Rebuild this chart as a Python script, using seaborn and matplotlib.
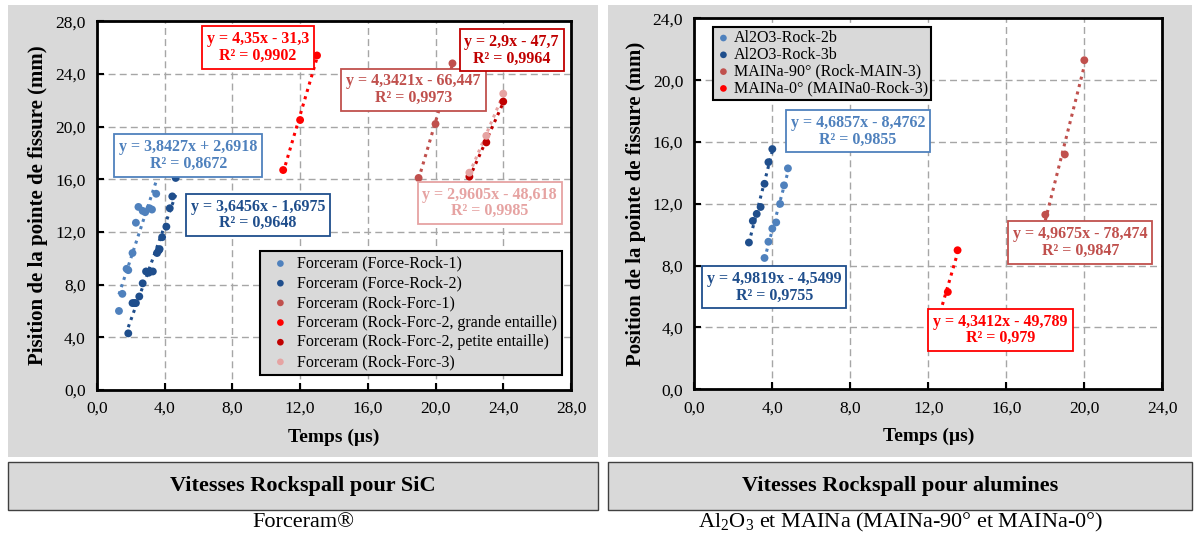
import numpy as np
import pandas as pd
import matplotlib
matplotlib.use('Agg')
import matplotlib.pyplot as plt
import seaborn as sns
from matplotlib.patches import Rectangle
from matplotlib.ticker import MultipleLocator, FuncFormatter

sns.set_style('white')
plt.rcParams['font.family'] = ['Liberation Serif', 'DejaVu Serif']
plt.rcParams['mathtext.fontset'] = 'custom'
plt.rcParams['mathtext.rm'] = 'Liberation Serif'
plt.rcParams['text.color'] = 'black'
plt.rcParams['axes.labelcolor'] = 'black'
plt.rcParams['xtick.color'] = 'black'
plt.rcParams['ytick.color'] = 'black'

# --- Données SiC (Forceram) ---
fr1_t = [1.3, 1.5, 1.75, 1.85, 2.1, 2.3, 2.45, 2.7, 2.85, 3.1, 3.25, 3.5]
fr1_p = [6.0, 7.3, 9.2, 9.1, 10.4, 12.7, 13.9, 13.6, 13.5, 13.8, 13.7, 14.9]
fr2_t = [1.85, 2.1, 2.2, 2.3, 2.5, 2.7, 2.9, 3.05, 3.15, 3.3, 3.55, 3.65, 3.7, 3.85, 4.1, 4.3, 4.45, 4.65]
fr2_p = [4.3, 6.6, 6.6, 6.6, 7.1, 8.1, 9.0, 8.9, 9.0, 9.0, 10.4, 10.6, 10.7, 11.6, 12.4, 13.8, 14.7, 16.1]
rf1_t = [19.0, 20.0, 21.0]
rf1_p = [16.1, 20.2, 24.8]
rf2g_t = [11.0, 12.0, 13.0]
rf2g_p = [16.7, 20.5, 25.4]
rf2p_t = [22.0, 23.0, 24.0]
rf2p_p = [16.2, 18.8, 21.9]
rf3_t = [22.0, 23.0, 24.0]
rf3_p = [16.5, 19.3, 22.5]

# --- Données alumines ---
a2b_t = [3.6, 3.8, 4.0, 4.2, 4.4, 4.6, 4.8]
a2b_p = [8.5, 9.55, 10.4, 10.8, 12.0, 13.2, 14.3]
a3b_t = [2.8, 3.0, 3.2, 3.4, 3.6, 3.8, 4.0]
a3b_p = [9.5, 10.9, 11.35, 11.8, 13.3, 14.7, 15.55]
m90_t = [18.0, 19.0, 20.0]
m90_p = [11.3, 15.2, 21.3]
m0_t = [12.5, 13.0, 13.5]
m0_p = [4.7, 6.3, 9.0]

c_lb = '#4F81BD'
c_db = '#1F4E8C'
c_ir = '#C0504D'
c_r = '#FF0000'
c_dr = '#C00000'
c_pk = '#E6A3A2'

left_series = [
    ('Forceram (Force-Rock-1)', fr1_t, fr1_p, c_lb),
    ('Forceram (Force-Rock-2)', fr2_t, fr2_p, c_db),
    ('Forceram (Rock-Forc-1)', rf1_t, rf1_p, c_ir),
    ('Forceram (Rock-Forc-2, grande entaille)', rf2g_t, rf2g_p, c_r),
    ('Forceram (Rock-Forc-2, petite entaille)', rf2p_t, rf2p_p, c_dr),
    ('Forceram (Rock-Forc-3)', rf3_t, rf3_p, c_pk),
]
right_series = [
    ('Al2O3-Rock-2b', a2b_t, a2b_p, c_lb),
    ('Al2O3-Rock-3b', a3b_t, a3b_p, c_db),
    ('MAINa-90° (Rock-MAIN-3)', m90_t, m90_p, c_ir),
    ('MAINa-0° (MAINa0-Rock-3)', m0_t, m0_p, c_r),
]

# équations affichées (texte, position x, position y, couleur)
left_eqs = [
    ('y = 4,35x - 31,3\nR² = 0,9902', 9.5, 26.0, c_r),
    ('y = 3,8427x + 2,6918\nR² = 0,8672', 5.4, 17.8, c_lb),
    ('y = 3,6456x - 1,6975\nR² = 0,9648', 9.5, 13.3, c_db),
    ('y = 4,3421x - 66,447\nR² = 0,9973', 18.7, 22.8, c_ir),
    ('y = 2,9x - 47,7\nR² = 0,9964', 24.5, 25.8, c_dr),
    ('y = 2,9605x - 48,618\nR² = 0,9985', 23.2, 14.2, c_pk),
]
right_eqs = [
    ('y = 4,6857x - 8,4762\nR² = 0,9855', 8.4, 16.7, c_lb),
    ('y = 4,9819x - 4,5499\nR² = 0,9755', 4.1, 6.6, c_db),
    ('y = 4,9675x - 78,474\nR² = 0,9847', 19.8, 9.5, c_ir),
    ('y = 4,3412x - 49,789\nR² = 0,979', 15.7, 3.85, c_r),
]

fig = plt.figure(figsize=(12, 5.36), dpi=100)

# fonds gris des panneaux
for x0, w in [(0.0067, 0.4917), (0.5067, 0.4867)]:
    fig.patches.append(Rectangle((x0, 0.1474), w, 0.843, transform=fig.transFigure,
                                 facecolor='#d9d9d9', edgecolor='none', zorder=-5))
    fig.patches.append(Rectangle((x0, 0.0485), w, 0.0896, transform=fig.transFigure,
                                 facecolor='#d9d9d9', edgecolor='#404040', lw=1, zorder=-5))

ax1 = fig.add_axes([0.0808, 0.2724, 0.395, 0.688])
ax2 = fig.add_axes([0.5786, 0.2737, 0.39, 0.6918])

comma = FuncFormatter(lambda v, p: f'{v:.1f}'.replace('.', ','))


def draw(ax, series, eqs, lim, ylabel, leg_kw):
    for name, t, p, c in series:
        df = pd.DataFrame({'t': t, 'p': p})
        sns.regplot(data=df, x='t', y='p', scatter=False, ci=None, ax=ax,
                    line_kws=dict(color=c, ls=(0, (1, 1.5)), lw=2.2))
        sns.scatterplot(data=df, x='t', y='p', color=c, s=32, edgecolor='none',
                        label=name, ax=ax, zorder=5)
    for txt, x, y, c in eqs:
        ax.text(x, y, txt, color=c, fontsize=11.5, fontweight='bold', ha='center', va='center',
                linespacing=1.05, zorder=6,
                bbox=dict(boxstyle='square,pad=0.3', fc='white', ec=c, lw=1.3))
    ax.set_xlim(0, lim)
    ax.set_ylim(0, lim)
    ax.xaxis.set_major_locator(MultipleLocator(4))
    ax.yaxis.set_major_locator(MultipleLocator(4))
    ax.xaxis.set_major_formatter(comma)
    ax.yaxis.set_major_formatter(comma)
    ax.grid(True, ls=(0, (5, 3)), color='#a6a6a6', lw=1)
    ax.tick_params(direction='in', length=5, width=1.5, labelsize=12.5, pad=8,
                   left=True, bottom=True)
    for s in ax.spines.values():
        s.set_linewidth(2)
        s.set_color('black')
    ax.set_xlabel('Temps (µs)', fontsize=14, fontweight='bold', labelpad=8)
    ax.set_ylabel(ylabel, fontsize=15, fontweight='bold', labelpad=5)
    leg = ax.legend(frameon=True, facecolor='#d9d9d9', edgecolor='black',
                    framealpha=1, fancybox=False, markerscale=0.85, borderaxespad=0, **leg_kw)
    leg.get_frame().set_linewidth(1.5)
    leg.set_zorder(7)


draw(ax1, left_series, left_eqs, 28, 'Pisition de la pointe de fissure (mm)',
     dict(loc='lower right', bbox_to_anchor=(0.981, 0.041), fontsize=11.5,
          labelspacing=0.23, borderpad=0.3, handlelength=1.9, handletextpad=0.1))
draw(ax2, right_series, right_eqs, 24, 'Position de la pointe de fissure (mm)',
     dict(loc='upper left', bbox_to_anchor=(0.04, 0.977), fontsize=11.5,
          labelspacing=0.05, borderpad=0.2, handlelength=0.9, handletextpad=0.2))

fig.text(0.2525, 0.0933, 'Vitesses Rockspall pour SiC', ha='center', va='center',
         fontsize=16, fontweight='bold')
fig.text(0.75, 0.0933, 'Vitesses Rockspall pour alumines', ha='center', va='center',
         fontsize=16, fontweight='bold')
fig.text(0.2525, 0.026, 'Forceram®', ha='center', va='center', fontsize=16)
fig.text(0.75, 0.026, 'Al$_2$O$_3$ et MAINa (MAINa-90° et MAINa-0°)', ha='center',
         va='center', fontsize=16)

fig.savefig('out.png', dpi=100)
